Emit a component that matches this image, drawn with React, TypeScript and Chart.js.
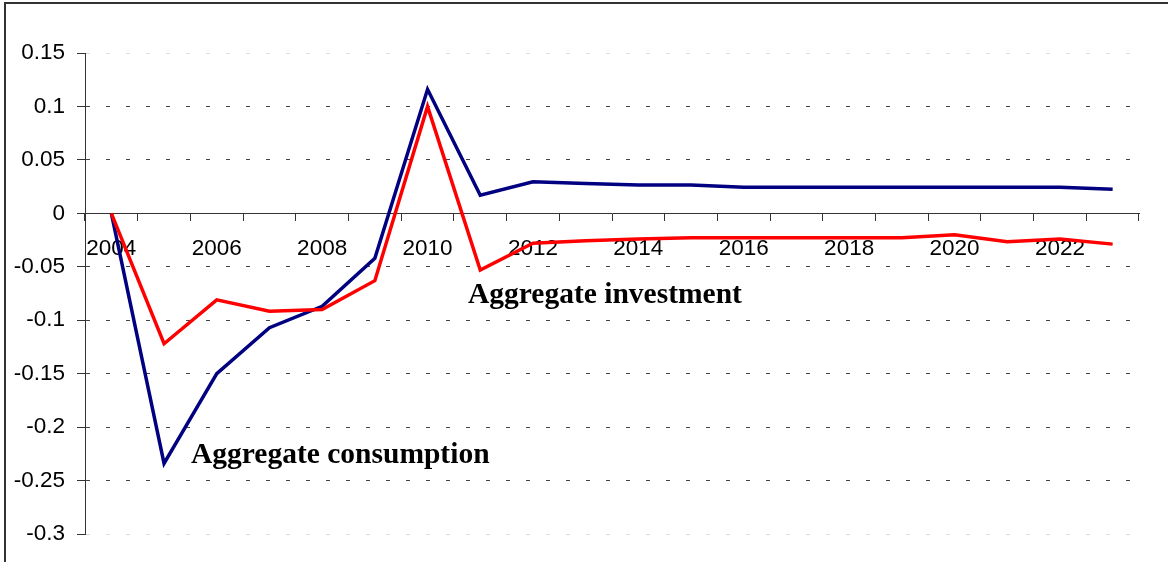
import React, { useEffect, useRef } from "react";
import { Chart, registerables } from "chart.js";

Chart.register(...registerables);

const years: string[] = [
  "2004", "2005", "2006", "2007", "2008", "2009", "2010", "2011", "2012", "2013",
  "2014", "2015", "2016", "2017", "2018", "2019", "2020", "2021", "2022", "2023",
];

const consumption: number[] = [
  0, -0.234, -0.15, -0.107, -0.087, -0.042, 0.116, 0.017, 0.0296, 0.028,
  0.0265, 0.0265, 0.0244, 0.0244, 0.0244, 0.0244, 0.0244, 0.0244, 0.0244, 0.0225,
];

const investment: number[] = [
  0, -0.122, -0.081, -0.0916, -0.09, -0.063, 0.1, -0.053, -0.028, -0.0257,
  -0.024, -0.0228, -0.0228, -0.0228, -0.0228, -0.0228, -0.02, -0.0266, -0.024, -0.0288,
];

const yMin = -0.3;
const yMax = 0.15;
const yStep = 0.05;

const consumptionLabel = "Aggregate consumption";
const investmentLabel = "Aggregate investment";

export default function App() {
  const canvasRef = useRef<HTMLCanvasElement | null>(null);

  useEffect(() => {
    const canvas = canvasRef.current;
    if (!canvas) return;

    const frame = {
      id: "frameAndNotes",
      beforeDraw(chart: any) {
        const ctx = chart.ctx;
        ctx.save();
        ctx.fillStyle = "#ffffff";
        ctx.fillRect(0, 0, chart.width, chart.height);
        ctx.strokeStyle = "#333333";
        ctx.lineWidth = 2;
        ctx.beginPath();
        ctx.moveTo(5, chart.height + 2);
        ctx.lineTo(5, 3);
        ctx.lineTo(chart.width + 2, 3);
        ctx.stroke();
        ctx.restore();
      },
      afterDraw(chart: any) {
        const ctx = chart.ctx;
        ctx.save();
        ctx.fillStyle = "#000000";
        ctx.font = "bold 29.5px 'Liberation Serif', 'Times New Roman', serif";
        ctx.textBaseline = "alphabetic";
        ctx.textAlign = "left";
        ctx.fillText(investmentLabel, 468, 303);
        ctx.fillText(consumptionLabel, 191, 463);
        ctx.restore();
      },
    };

    const chart = new Chart(canvas, {
      type: "line",
      data: {
        labels: years,
        datasets: [
          {
            label: investmentLabel,
            data: investment,
            borderColor: "#ff0000",
            backgroundColor: "#ff0000",
            borderWidth: 3.5,
            pointRadius: 0,
            tension: 0,
          },
          {
            label: consumptionLabel,
            data: consumption,
            borderColor: "#000080",
            backgroundColor: "#000080",
            borderWidth: 3.5,
            pointRadius: 0,
            tension: 0,
          },
        ],
      },
      options: {
        responsive: false,
        animation: false,
        layout: { padding: { left: 0, top: 53, right: 29, bottom: 28 } },
        plugins: {
          legend: { display: false },
          tooltip: { enabled: false },
          title: { display: false },
        },
        scales: {
          x: {
            type: "category",
            position: { y: 0 } as any,
            offset: true,
            grid: {
              offset: true,
              drawOnChartArea: false,
              drawTicks: true,
              tickLength: 7,
              tickColor: "#333333",
              tickWidth: 1,
            },
            border: { display: true, color: "#333333", width: 1 },
            ticks: {
              autoSkip: false,
              maxRotation: 0,
              minRotation: 0,
              padding: 15,
              color: "#000000",
              font: { family: "'Liberation Sans', Arial, sans-serif", size: 22.5 },
              callback: (_v: any, i: number) => (i % 2 === 0 ? years[i] : ""),
            },
          },
          y: {
            type: "linear",
            min: yMin,
            max: yMax,
            afterFit: (scale: any) => {
              scale.width = 85;
            },
            grid: {
              color: (c: any) => {
                const v = c.tick ? c.tick.value : 0;
                if (Math.abs(v - yMax) < 1e-6 || Math.abs(v - yMin) < 1e-6) return "#dddddd";
                return "#444444";
              },
              lineWidth: 1,
              drawTicks: true,
              tickLength: 8,
              tickColor: "#333333",
              tickBorderDash: [],
            } as any,
            border: { display: true, color: "#333333", width: 1, dash: [4, 16] },
            ticks: {
              stepSize: yStep,
              padding: 12,
              color: "#000000",
              font: { family: "'Liberation Sans', Arial, sans-serif", size: 22.5 },
              callback: (v: any) => String(Number(Number(v).toFixed(2))),
            },
          },
        },
      },
      plugins: [frame],
    });

    return () => chart.destroy();
  }, []);

  return (
    <div style={{ position: "fixed", left: 0, top: 0, width: 1168, height: 562 }}>
      <canvas ref={canvasRef} width={1168} height={562} style={{ display: "block" }} />
    </div>
  );
}
